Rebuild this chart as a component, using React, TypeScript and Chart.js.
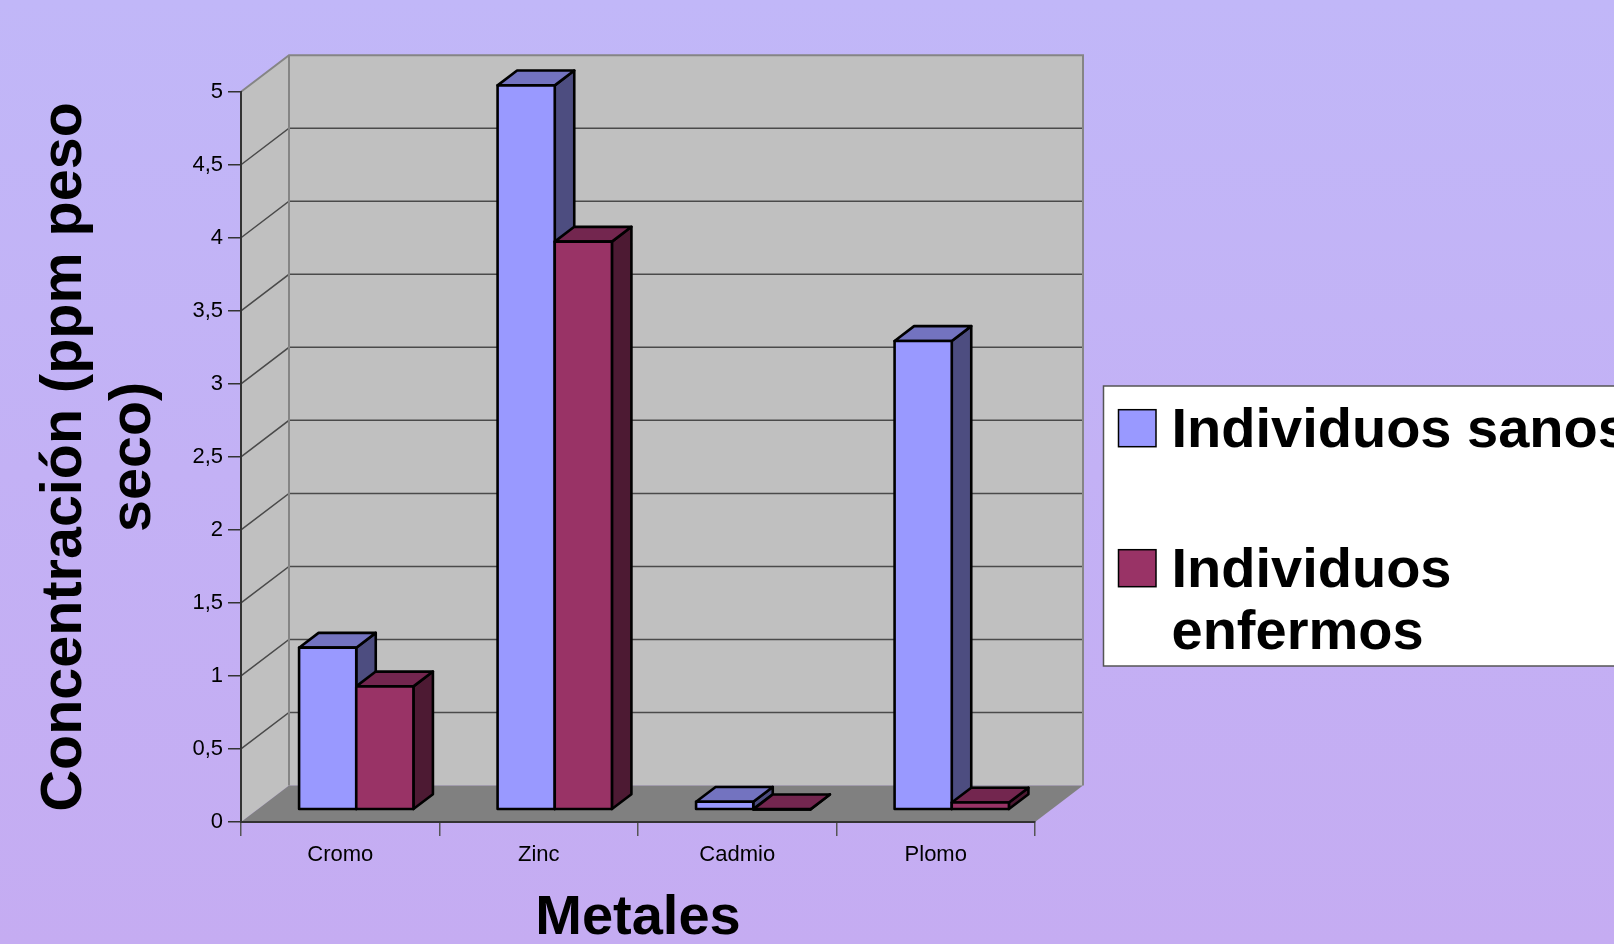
import React, { useEffect, useRef } from 'react';
import { Chart, registerables } from 'chart.js';

Chart.register(...registerables);

// ---------- data ----------
const categories = ['Cromo', 'Zinc', 'Cadmio', 'Plomo'];
const seriesNames = ['Individuos sanos', 'Individuos enfermos'];
const sanos = [1.11, 4.96, 0.055, 3.21];
const enfermos = [0.845, 3.89, 0.003, 0.05];
const yTickLabels = ['0', '0,5', '1', '1,5', '2', '2,5', '3', '3,5', '4', '4,5', '5'];
const yTitle = ['Concentración (ppm peso', 'seco)'];
const xTitle = 'Metales';

// ---------- styles ----------
const FONT = "'Liberation Sans', Arial, Helvetica, sans-serif";
const frontColors = ['#9999FF', '#993366'];
const topColors = ['#7373C0', '#73264F'];
const sideColors = ['#4D4D80', '#4D1A33'];
const WALL_DX = 48;
const WALL_DY = -36.5;
const BAR_SX = 16;
const BAR_SY = -12.2;
const BAR_DX = 19.5;
const BAR_DY = -14.8;

function poly(ctx: CanvasRenderingContext2D, pts: number[][]) {
  ctx.beginPath();
  ctx.moveTo(pts[0][0], pts[0][1]);
  for (let i = 1; i < pts.length; i++) ctx.lineTo(pts[i][0], pts[i][1]);
  ctx.closePath();
}

const threeDPlugin = {
  id: 'threeD',
  beforeDatasetsDraw(chart: any) {
    const ctx: CanvasRenderingContext2D = chart.ctx;
    const { left: L, right: R, top: T, bottom: B } = chart.chartArea;
    const ys = chart.scales.y;
    ctx.save();
    // walls
    ctx.fillStyle = '#C0C0C0';
    poly(ctx, [[L, B], [L, T], [L + WALL_DX, T + WALL_DY], [L + WALL_DX, B + WALL_DY]]);
    ctx.fill();
    ctx.fillRect(L + WALL_DX, T + WALL_DY, R - L, B - T);
    // floor
    ctx.fillStyle = '#808080';
    poly(ctx, [[L, B], [L + WALL_DX, B + WALL_DY], [R + WALL_DX, B + WALL_DY], [R, B]]);
    ctx.fill();
    // gridlines
    ctx.strokeStyle = '#4A4A4A';
    ctx.lineWidth = 1.5;
    ys.ticks.forEach((t: any) => {
      if (t.value <= ys.min || t.value >= ys.max) return;
      const py = ys.getPixelForValue(t.value);
      ctx.beginPath();
      ctx.moveTo(L, py);
      ctx.lineTo(L + WALL_DX, py + WALL_DY);
      ctx.lineTo(R + WALL_DX, py + WALL_DY);
      ctx.stroke();
    });
    // wall borders
    ctx.strokeStyle = '#858585';
    ctx.lineWidth = 2;
    ctx.beginPath();
    ctx.moveTo(L, T);
    ctx.lineTo(L + WALL_DX, T + WALL_DY);
    ctx.lineTo(R + WALL_DX, T + WALL_DY);
    ctx.lineTo(R + WALL_DX, B + WALL_DY);
    ctx.moveTo(L + WALL_DX, T + WALL_DY);
    ctx.lineTo(L + WALL_DX, B + WALL_DY);
    ctx.stroke();

    // bars
    ctx.strokeStyle = '#000';
    ctx.lineWidth = 2.6;
    ctx.lineJoin = 'round';
    const metas = chart.data.datasets.map((_: any, d: number) => chart.getDatasetMeta(d));
    const n = chart.data.labels.length;
    for (let i = 0; i < n; i++) {
      metas.forEach((meta: any, d: number) => {
        const el = meta.data[i];
        if (!el) return;
        const { x, y, base, width } = el.getProps(['x', 'y', 'base', 'width'], true);
        const l = x - width / 2 + BAR_SX;
        const r = x + width / 2 + BAR_SX;
        const t = y + BAR_SY;
        const b = base + BAR_SY;
        // side
        ctx.fillStyle = sideColors[d];
        poly(ctx, [[r, t], [r + BAR_DX, t + BAR_DY], [r + BAR_DX, b + BAR_DY], [r, b]]);
        ctx.fill();
        ctx.stroke();
        // top
        ctx.fillStyle = topColors[d];
        poly(ctx, [[l, t], [l + BAR_DX, t + BAR_DY], [r + BAR_DX, t + BAR_DY], [r, t]]);
        ctx.fill();
        ctx.stroke();
        // front
        ctx.fillStyle = frontColors[d];
        ctx.beginPath();
        ctx.rect(l, t, r - l, b - t);
        ctx.fill();
        ctx.stroke();
      });
    }
    ctx.restore();
    return false;
  },
};

const legendPlugin = {
  id: 'boxLegend',
  afterDraw(chart: any) {
    const ctx: CanvasRenderingContext2D = chart.ctx;
    ctx.save();
    ctx.fillStyle = '#FFFFFF';
    ctx.fillRect(1103.5, 386, 600, 280);
    ctx.strokeStyle = '#555';
    ctx.lineWidth = 1.5;
    ctx.strokeRect(1103.5, 386, 600, 280);
    ctx.font = `bold 56px ${FONT}`;
    ctx.textBaseline = 'alphabetic';
    ctx.textAlign = 'left';
    const maxW = 500;
    const entryTops = [446.7, 586.7];
    chart.data.datasets.forEach((ds: any, d: number) => {
      const words = String(ds.label).split(' ');
      const lines: string[] = [];
      let cur = '';
      words.forEach((w) => {
        const test = cur ? cur + ' ' + w : w;
        if (cur && ctx.measureText(test).width > maxW) {
          lines.push(cur);
          cur = w;
        } else cur = test;
      });
      if (cur) lines.push(cur);
      const base = entryTops[d];
      ctx.fillStyle = ds.backgroundColor;
      ctx.fillRect(1118.5, base - 37, 37.5, 37);
      ctx.strokeStyle = '#000';
      ctx.lineWidth = 1.5;
      ctx.strokeRect(1118.5, base - 37, 37.5, 37);
      ctx.fillStyle = '#000';
      lines.forEach((ln, k) => ctx.fillText(ln, 1171.5, base + k * 62.5));
    });
    ctx.restore();
  },
};

export default function App() {
  const ref = useRef<HTMLCanvasElement>(null);
  useEffect(() => {
    const chart = new Chart(ref.current as HTMLCanvasElement, {
      type: 'bar',
      data: {
        labels: categories,
        datasets: [
          { label: seriesNames[0], data: sanos, backgroundColor: frontColors[0], borderColor: '#000', borderWidth: 2 },
          { label: seriesNames[1], data: enfermos, backgroundColor: frontColors[1], borderColor: '#000', borderWidth: 2 },
        ],
      },
      options: {
        responsive: false,
        animation: false,
        devicePixelRatio: 1,
        layout: { padding: { left: 0, top: 91.7, right: 579, bottom: 0 } },
        plugins: { legend: { display: false }, tooltip: { enabled: false } },
        datasets: { bar: { categoryPercentage: 0.576, barPercentage: 1 } },
        scales: {
          x: {
            grid: { drawOnChartArea: false, drawTicks: true, tickLength: 14, color: '#555', lineWidth: 1.5, offset: true },
            border: { display: true, color: '#333', width: 2, z: 1 },
            ticks: { color: '#000', font: { family: FONT, size: 22 }, padding: 6 },
            title: {
              display: true,
              text: xTitle,
              color: '#000',
              font: { family: FONT, size: 56, weight: 'bold', lineHeight: 0.8 },
              padding: { top: 0, bottom: 3 },
            },
            afterFit: (s: any) => { s.height = 122; },
          },
          y: {
            min: 0,
            max: 5,
            grid: { drawOnChartArea: false, drawTicks: true, tickLength: 13, color: '#333', lineWidth: 1.5 },
            border: { display: true, color: '#333', width: 2, z: 1 },
            ticks: {
              stepSize: 0.5,
              color: '#000',
              font: { family: FONT, size: 22 },
              padding: 5,
              callback: (_v: any, i: number) => yTickLabels[i],
            },
            title: {
              display: true,
              text: yTitle,
              color: '#000',
              font: { family: FONT, size: 57.5, weight: 'bold', lineHeight: 1.2 },
              padding: { top: 30.4, bottom: 0 },
            },
            afterFit: (s: any) => { s.width = 241; },
          },
        },
      } as any,
      plugins: [threeDPlugin, legendPlugin],
    });
    return () => chart.destroy();
  }, []);
  return (
    <div
      style={{
        position: 'fixed',
        left: 0,
        top: 0,
        width: 1614,
        height: 944,
        overflow: 'hidden',
        background: 'linear-gradient(180deg, #C1B7F8 0%, #C3B1F5 50%, #C5ACF2 100%)',
      }}
    >
      <canvas ref={ref} width={1614} height={944} style={{ display: 'block', width: 1614, height: 944 }} />
    </div>
  );
}
